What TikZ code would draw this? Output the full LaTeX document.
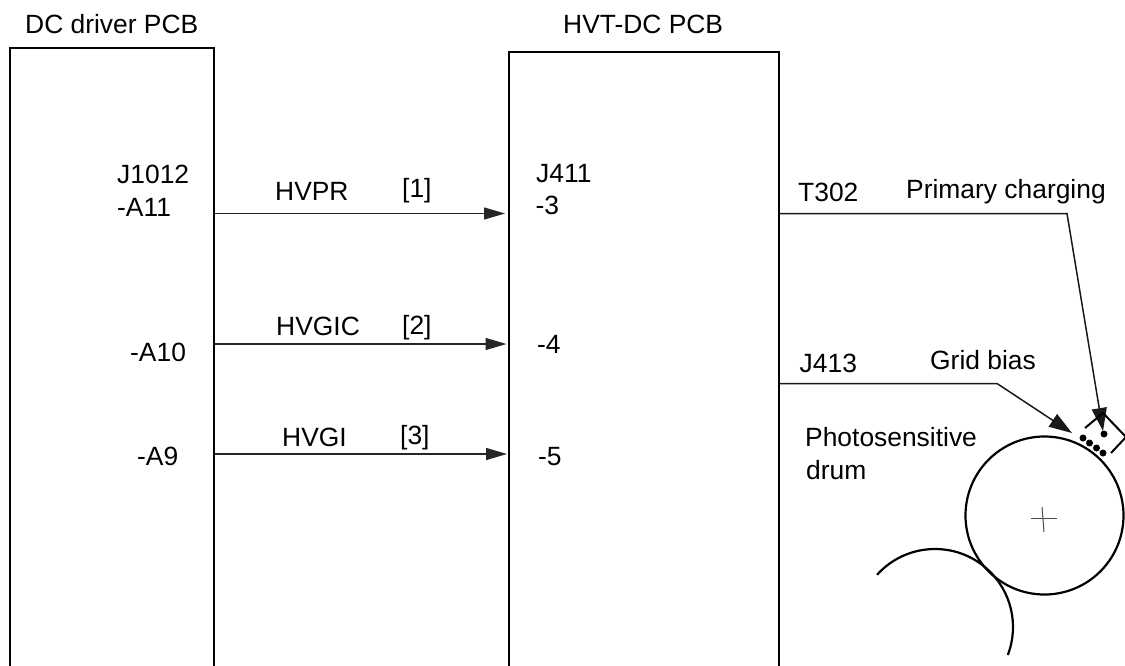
\documentclass[tikz,border=0pt]{standalone}
\usepackage{fontspec}
\setmainfont{Liberation Sans}
\usetikzlibrary{arrows.meta,calc}
\tikzset{
  lbl/.style={anchor=base west,inner sep=0pt,font=\fontsize{26.4}{29}\selectfont,text=black},
  pcb/.style={draw=black,line width=2.2pt,inner sep=0pt,anchor=north west},
  sig/.style={draw=black!85,line width=1.3pt,-{Triangle[length=21pt,width=12pt]}},
  feed/.style={draw=black!90,line width=1.5pt},
  drumline/.style={draw=black,line width=2.2pt},
  dot/.style={circle,fill=black,inner sep=0pt,minimum size=7pt}
}
\begin{document}
\begin{tikzpicture}[x=1pt,y=-1pt]
\useasboundingbox (0,0) rectangle (1125,665);
\fill[white] (0,0) rectangle (1125,665);
\begin{scope}
\clip (0,0) rectangle (1125,665);
\node[pcb,minimum width=204pt,minimum height=640pt] (dc) at (9,46.5) {};
\node[pcb,minimum width=270pt,minimum height=640pt] (hvt) at (508,51) {};

\coordinate (a11) at (dc.north east |- 0,213.5);
\coordinate (a10) at (dc.north east |- 0,344);
\coordinate (a9) at (dc.north east |- 0,454);
\coordinate (p3) at (505,213.5);
\coordinate (p4) at (506.5,344);
\coordinate (p5) at (507,454);
\draw[sig] (a11) -- (p3);
\draw[sig] (a10) -- (p4);
\draw[sig] (a9) -- (p5);

\coordinate (t302) at (hvt.north east |- 0,213.5);
\coordinate (j413) at (hvt.north east |- 0,383.5);
\coordinate (tipa) at (1103,431);
\coordinate (tipb) at (1072,433);
\draw[feed,-{Triangle[length=23pt,width=15pt]}] (t302) -- (1067,213.5) -- (tipa);
\draw[feed,-{Triangle[length=23pt,width=15pt]}] (j413) -- (997,383.5) -- (tipb);

\node[circle,draw=black,line width=2.2pt,minimum size=158pt,inner sep=0pt] (drum) at (1044.5,515.5) {};
\draw[drumline] ($(935,627)+(138:78 and -78)$) arc[start angle=-138,end angle=21,radius=78];
\draw[black!70,line width=1pt] (1031,518) -- (1057,518);
\draw[black!70,line width=1pt] (1042,507) -- (1044,532);

\draw[draw=black,line width=2pt] (1085,428) -- (1103,413) -- (1126,437) -- (1111,453);
\node[dot] (d1) at (1083,438) {};
\node[dot] (d2) at (1089.5,443) {};
\node[dot] (d3) at (1096.5,448) {};
\node[dot] (d4) at (1103,453) {};
\node[dot] (d5) at (1104,434) {};
\end{scope}

\node[lbl] (t1) at (25,33) {DC driver PCB};
\node[lbl] (t2) at (563,33) {HVT-DC PCB};
\node[lbl] (t3) at (117,183) {J1012};
\node[lbl] (t4) at (117,216) {-A11};
\node[lbl] (t5) at (275,200) {HVPR};
\node[lbl] (t6) at (402,197) {[1]};
\node[lbl] (t7) at (536,182) {J411};
\node[lbl] (t8) at (535.5,214) {-3};
\node[lbl] (t9) at (798,201) {T302};
\node[lbl] (t10) at (906,198) {Primary charging};
\node[lbl] (t11) at (276,335) {HVGIC};
\node[lbl] (t12) at (402,334) {[2]};
\node[lbl] (t13) at (130,361) {-A10};
\node[lbl] (t14) at (537,353) {-4};
\node[lbl] (t15) at (799.5,372) {J413};
\node[lbl] (t16) at (930,369) {Grid bias};
\node[lbl] (t17) at (282,446) {HVGI};
\node[lbl] (t18) at (400,444) {[3]};
\node[lbl] (t19) at (137,465) {-A9};
\node[lbl] (t20) at (538,465.5) {-5};
\node[lbl] (t21) at (805,446.5) {Photosensitive};
\node[lbl] (t22) at (806,479) {drum};
\end{tikzpicture}
\end{document}
